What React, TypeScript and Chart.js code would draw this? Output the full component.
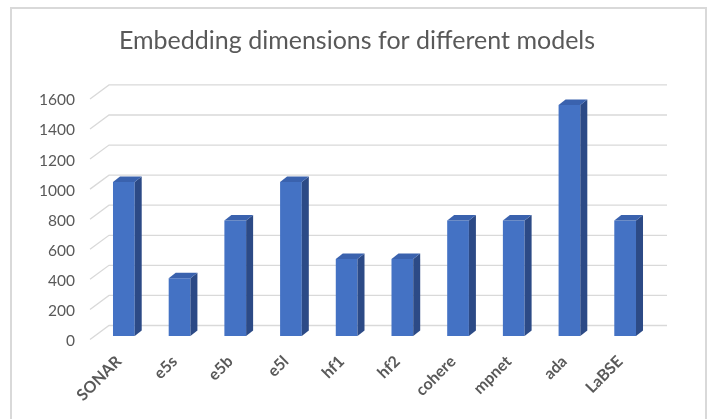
import React, { useEffect, useRef } from "react";
import { Chart, registerables } from "chart.js";

Chart.register(...registerables);

const models = ["SONAR", "e5s", "e5b", "e5l", "hf1", "hf2", "cohere", "mpnet", "ada", "LaBSE"];
const dimensions = [1024, 384, 768, 1024, 512, 512, 768, 768, 1536, 768];
const yTickStep = 200;
const yMax = 1600;

const FRONT = "#4472C4";
const SIDE = "#2C4A86";
const TOP = "#3A62AE";
const GRID = "#D9D9D9";
const TEXT = "#595959";
const FONT = "Lato, 'Open Sans', sans-serif";

// Depth of the bars (oblique projection offsets)
const BAR_DX = 7;
const BAR_DY = -5.5;

const framePlugin = {
  id: "frame",
  beforeDraw(chart: any) {
    const { ctx, width, height } = chart;
    ctx.save();
    ctx.fillStyle = "#ffffff";
    ctx.fillRect(0, 0, width, height);
    ctx.strokeStyle = GRID;
    ctx.lineWidth = 2;
    ctx.strokeRect(11, 8, 695, height + 20);
    ctx.restore();
  },
};

// Gridlines on the back wall with slanted connectors to the front edge
const wallGridPlugin = {
  id: "wallGrid",
  beforeDatasetsDraw(chart: any) {
    const { ctx, chartArea, scales } = chart;
    const y = scales.y;
    ctx.save();
    ctx.strokeStyle = GRID;
    ctx.lineWidth = 1.3;
    y.ticks.forEach((t: any) => {
      const py = y.getPixelForValue(t.value);
      const frontY = py + 3.5;
      const backY = py - 10.5;
      const frontX = chartArea.left - 6;
      const backX = chartArea.left + 13;
      ctx.beginPath();
      ctx.moveTo(frontX, frontY);
      ctx.lineTo(backX, backY);
      ctx.lineTo(chartArea.right + 14, backY);
      ctx.stroke();
    });
    ctx.restore();
  },
};

// Side and top faces of each column
const columnFacesPlugin = {
  id: "columnFaces",
  afterDatasetsDraw(chart: any) {
    const { ctx } = chart;
    const meta = chart.getDatasetMeta(0);
    ctx.save();
    meta.data.forEach((bar: any) => {
      const { x, y, base, width } = bar.getProps(["x", "y", "base", "width"], true);
      const l = x - width / 2;
      const r = x + width / 2;
      ctx.fillStyle = SIDE;
      ctx.beginPath();
      ctx.moveTo(r, y);
      ctx.lineTo(r + BAR_DX, y + BAR_DY);
      ctx.lineTo(r + BAR_DX, base + BAR_DY);
      ctx.lineTo(r, base);
      ctx.closePath();
      ctx.fill();
      ctx.fillStyle = TOP;
      ctx.beginPath();
      ctx.moveTo(l, y);
      ctx.lineTo(l + BAR_DX, y + BAR_DY);
      ctx.lineTo(r + BAR_DX, y + BAR_DY);
      ctx.lineTo(r, y);
      ctx.closePath();
      ctx.fill();
    });
    ctx.restore();
  },
};

export default function App() {
  const canvasRef = useRef<HTMLCanvasElement | null>(null);

  useEffect(() => {
    if (!canvasRef.current) return;
    const chart = new Chart(canvasRef.current, {
      type: "bar",
      data: {
        labels: models,
        datasets: [
          {
            label: "Dimensions",
            data: dimensions,
            backgroundColor: FRONT,
            borderWidth: 0,
            barPercentage: 0.39,
            categoryPercentage: 1,
          },
        ],
      },
      options: {
        responsive: false,
        animation: false,
        layout: { padding: 0 },
        plugins: {
          legend: { display: false },
          tooltip: { enabled: false },
          title: {
            display: true,
            text: "Embedding dimensions for different models",
            color: TEXT,
            font: { family: FONT, size: 25, weight: "normal" },
            padding: { top: 26, bottom: 39.4 },
          },
        },
        scales: {
          x: {
            grid: { display: false },
            border: { display: false },
            ticks: {
              color: TEXT,
              font: { family: FONT, size: 16, weight: "bold" },
              minRotation: 45,
              maxRotation: 45,
              padding: 8,
              labelOffset: -5,
            },
            afterFit: (scale: any) => {
              scale.height = 83;
            },
          },
          y: {
            min: 0,
            max: yMax,
            grid: { display: false },
            border: { display: false },
            ticks: {
              stepSize: yTickStep,
              color: TEXT,
              font: { family: FONT, size: 15.5 },
              padding: 13,
              labelOffset: 5,
              callback: (v: any) => String(v),
            },
            afterFit: (scale: any) => {
              scale.width = 96;
            },
          },
          // empty right-hand axis reserving the margin beside the back wall
          yRight: {
            position: "right",
            display: true,
            grid: { display: false },
            border: { display: false },
            ticks: { display: false },
            afterFit: (scale: any) => {
              scale.width = 61;
            },
          },
        },
      },
      plugins: [framePlugin, wallGridPlugin, columnFacesPlugin],
    });
    return () => chart.destroy();
  }, []);

  return (
    <div style={{ position: "fixed", left: 0, top: 0, width: 714, height: 419 }}>
      <canvas ref={canvasRef} width={714} height={419} style={{ display: "block" }} />
    </div>
  );
}
